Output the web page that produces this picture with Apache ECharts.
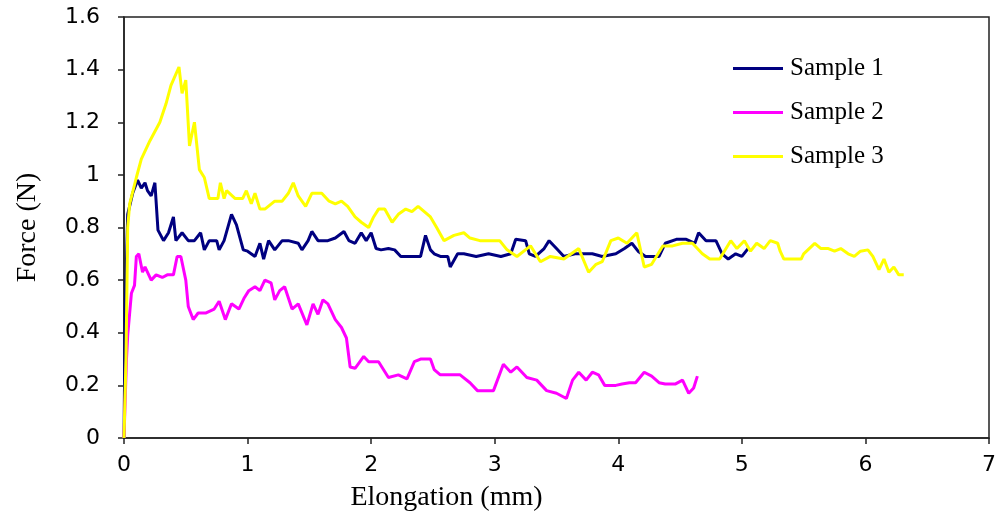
<!DOCTYPE html>
<html>
<head>
<meta charset="utf-8">
<script src="https://cdn.jsdelivr.net/npm/echarts@6/dist/echarts.min.js"></script>
<style>
  html, body { margin: 0; padding: 0; background: #fff; }
  #chart { width: 1000px; height: 526px; }
</style>
</head>
<body>
<div id="chart"></div>
<script>
// Force vs elongation, points as [mm, N]
const seriesNames = ['Sample 1', 'Sample 2', 'Sample 3'];
const seriesColors = ['#000080', '#ff00ff', '#ffff00'];

const sample1 = [
  [0, 0], [0.01, 0.5], [0.03, 0.85], [0.07, 0.93], [0.11, 0.98], [0.14, 0.95], [0.17, 0.97], [0.19, 0.94],
  [0.22, 0.92], [0.25, 0.97], [0.275, 0.79], [0.32, 0.75], [0.36, 0.78], [0.40, 0.84], [0.42, 0.75], [0.47, 0.78],
  [0.52, 0.75], [0.57, 0.75], [0.62, 0.78], [0.65, 0.715], [0.69, 0.75], [0.75, 0.75], [0.77, 0.715], [0.81, 0.75],
  [0.87, 0.85], [0.91, 0.81], [0.965, 0.715], [1.0, 0.71], [1.06, 0.69], [1.10, 0.74], [1.13, 0.68], [1.17, 0.75],
  [1.22, 0.715], [1.28, 0.75], [1.33, 0.75], [1.41, 0.74], [1.44, 0.715], [1.49, 0.75], [1.52, 0.785], [1.57, 0.75],
  [1.65, 0.75], [1.71, 0.76], [1.78, 0.785], [1.82, 0.75], [1.87, 0.74], [1.92, 0.78], [1.96, 0.75], [2.0, 0.78],
  [2.04, 0.72], [2.08, 0.715], [2.14, 0.72], [2.19, 0.715], [2.24, 0.69], [2.30, 0.69], [2.35, 0.69], [2.40, 0.69],
  [2.44, 0.77], [2.48, 0.715], [2.51, 0.70], [2.56, 0.69], [2.62, 0.69], [2.64, 0.65], [2.70, 0.70], [2.75, 0.70],
  [2.85, 0.69], [2.95, 0.70], [3.05, 0.69], [3.13, 0.70], [3.17, 0.755], [3.25, 0.75], [3.28, 0.70], [3.33, 0.69],
  [3.40, 0.72], [3.44, 0.75], [3.5, 0.72], [3.56, 0.69], [3.65, 0.70], [3.73, 0.70], [3.79, 0.70], [3.87, 0.69],
  [3.98, 0.70], [4.05, 0.72], [4.11, 0.74], [4.16, 0.71], [4.22, 0.69], [4.33, 0.69], [4.38, 0.74], [4.47, 0.755],
  [4.55, 0.755], [4.62, 0.74], [4.65, 0.78], [4.71, 0.75], [4.79, 0.75], [4.84, 0.70], [4.89, 0.68], [4.95, 0.70],
  [5.0, 0.69], [5.05, 0.72]
];

const sample2 = [
  [0, 0], [0.02, 0.3], [0.03, 0.39], [0.06, 0.55], [0.085, 0.58], [0.10, 0.69], [0.12, 0.70], [0.15, 0.63],
  [0.17, 0.65], [0.22, 0.60], [0.26, 0.62], [0.31, 0.61], [0.35, 0.62], [0.40, 0.62], [0.43, 0.69], [0.46, 0.69],
  [0.50, 0.60], [0.52, 0.50], [0.56, 0.45], [0.60, 0.475], [0.66, 0.475], [0.73, 0.49], [0.77, 0.52], [0.82, 0.45],
  [0.87, 0.51], [0.93, 0.49], [0.97, 0.53], [1.01, 0.56], [1.06, 0.575], [1.10, 0.56], [1.14, 0.60], [1.19, 0.59],
  [1.22, 0.525], [1.26, 0.56], [1.30, 0.575], [1.36, 0.49], [1.41, 0.51], [1.48, 0.43], [1.53, 0.51], [1.57, 0.47],
  [1.61, 0.525], [1.65, 0.51], [1.71, 0.45], [1.76, 0.42], [1.80, 0.38], [1.83, 0.27], [1.87, 0.265], [1.94, 0.31],
  [1.98, 0.29], [2.06, 0.29], [2.14, 0.23], [2.22, 0.24], [2.29, 0.225], [2.35, 0.29], [2.40, 0.30], [2.48, 0.30],
  [2.51, 0.26], [2.56, 0.24], [2.64, 0.24], [2.72, 0.24], [2.80, 0.21], [2.86, 0.18], [2.99, 0.18], [3.07, 0.28],
  [3.13, 0.25], [3.18, 0.27], [3.26, 0.23], [3.34, 0.22], [3.42, 0.18], [3.5, 0.17], [3.58, 0.15], [3.63, 0.22],
  [3.68, 0.25], [3.74, 0.22], [3.79, 0.25], [3.84, 0.24], [3.89, 0.20], [3.98, 0.20], [4.03, 0.205], [4.09, 0.21],
  [4.14, 0.21], [4.21, 0.25], [4.27, 0.235], [4.33, 0.21], [4.38, 0.205], [4.46, 0.205], [4.52, 0.22], [4.57, 0.17],
  [4.61, 0.19], [4.64, 0.235]
];

const sample3 = [
  [0, 0], [0.016, 0.3], [0.03, 0.8], [0.046, 0.89], [0.1, 0.99], [0.14, 1.06], [0.21, 1.13], [0.29, 1.2],
  [0.34, 1.27], [0.38, 1.34], [0.445, 1.41], [0.47, 1.31], [0.50, 1.36], [0.53, 1.11], [0.57, 1.2], [0.61, 1.02],
  [0.65, 0.99], [0.69, 0.91], [0.76, 0.91], [0.78, 0.97], [0.81, 0.91], [0.83, 0.94], [0.90, 0.91], [0.96, 0.91],
  [0.99, 0.94], [1.03, 0.89], [1.06, 0.93], [1.10, 0.87], [1.14, 0.87], [1.22, 0.90], [1.28, 0.90], [1.33, 0.93],
  [1.37, 0.97], [1.41, 0.92], [1.47, 0.88], [1.52, 0.93], [1.60, 0.93], [1.66, 0.90], [1.71, 0.89], [1.76, 0.90],
  [1.81, 0.88], [1.87, 0.84], [1.92, 0.82], [1.98, 0.80], [2.02, 0.84], [2.06, 0.87], [2.11, 0.87], [2.17, 0.82],
  [2.22, 0.85], [2.28, 0.87], [2.33, 0.86], [2.38, 0.88], [2.48, 0.84], [2.53, 0.80], [2.59, 0.75], [2.67, 0.77],
  [2.75, 0.78], [2.8, 0.76], [2.88, 0.75], [2.96, 0.75], [3.04, 0.75], [3.1, 0.715], [3.18, 0.69], [3.29, 0.73],
  [3.37, 0.67], [3.45, 0.69], [3.56, 0.68], [3.62, 0.70], [3.68, 0.72], [3.76, 0.63], [3.82, 0.66], [3.87, 0.67],
  [3.94, 0.75], [4.0, 0.76], [4.07, 0.74], [4.15, 0.78], [4.21, 0.65], [4.27, 0.66], [4.36, 0.73], [4.44, 0.73],
  [4.52, 0.74], [4.6, 0.74], [4.68, 0.70], [4.74, 0.68], [4.82, 0.68], [4.91, 0.75], [4.96, 0.72], [5.02, 0.75],
  [5.07, 0.71], [5.12, 0.74], [5.18, 0.72], [5.23, 0.75], [5.29, 0.74], [5.31, 0.71], [5.34, 0.68], [5.48, 0.68],
  [5.50, 0.70], [5.59, 0.74], [5.64, 0.72], [5.70, 0.72], [5.75, 0.71], [5.80, 0.72], [5.86, 0.70], [5.91, 0.69],
  [5.96, 0.71], [6.02, 0.715], [6.06, 0.69], [6.11, 0.64], [6.15, 0.68], [6.19, 0.63], [6.23, 0.65], [6.27, 0.62],
  [6.31, 0.62]
];

const allSamples = [sample1, sample2, sample3];

const tickFont = { color: '#000', fontFamily: 'DejaVu Sans', fontSize: 22 };
const titleFont = { color: '#000', fontFamily: 'Liberation Serif', fontSize: 28 };

const chart = echarts.init(document.getElementById('chart'));
chart.setOption({
  animation: false,
  backgroundColor: '#fff',
  grid: { left: 124, right: 11, top: 17, bottom: 88, show: true, borderColor: '#222', borderWidth: 1.5 },
  legend: {
    orient: 'vertical', left: 728, top: 51,
    itemWidth: 50, itemHeight: 3, itemGap: 19,
    icon: 'rect',
    data: seriesNames,
    textStyle: { color: '#000', fontFamily: 'Liberation Serif', fontSize: 25, padding: [0, 0, 0, 2] }
  },
  xAxis: {
    type: 'value', min: 0, max: 7, interval: 1,
    name: 'Elongation (mm)', nameLocation: 'middle', nameGap: 46,
    nameTextStyle: Object.assign({ padding: [0, 220, 0, 0] }, titleFont),
    axisLine: { lineStyle: { color: '#222', width: 1.5 } },
    axisTick: { inside: false, length: 6, lineStyle: { color: '#222', width: 1.5 } },
    axisLabel: Object.assign({ margin: 16 }, tickFont),
    splitLine: { show: false }
  },
  yAxis: {
    type: 'value', min: 0, max: 1.6, interval: 0.2,
    name: 'Force (N)', nameLocation: 'middle', nameGap: 82,
    nameTextStyle: Object.assign({ padding: [0, 0, 0, 0] }, titleFont),
    axisLine: { show: true, lineStyle: { color: '#222', width: 1.5 } },
    axisTick: { show: true, inside: false, length: 6, lineStyle: { color: '#222', width: 1.5 } },
    axisLabel: Object.assign({ margin: 24 }, tickFont),
    splitLine: { show: false }
  },
  series: allSamples.map((pts, i) => ({
    name: seriesNames[i],
    type: 'line',
    data: pts,
    symbol: 'none',
    smooth: false,
    color: seriesColors[i],
    lineStyle: { color: seriesColors[i], width: 3 }
  }))
});
</script>
</body>
</html>
